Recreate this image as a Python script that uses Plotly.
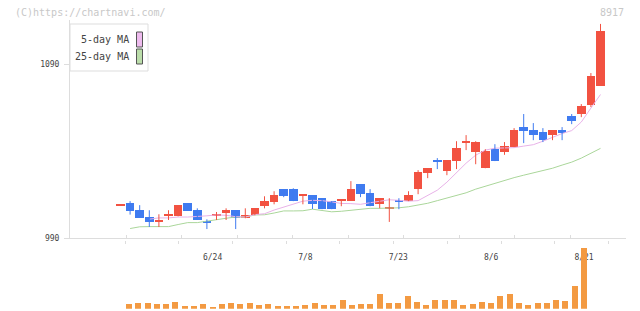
import plotly.graph_objects as go

# ---------------- data ----------------
dates = ["6/10", "6/11", "6/12", "6/13", "6/14", "6/17", "6/18", "6/19", "6/20", "6/21",
         "6/24", "6/25", "6/26", "6/27", "6/28", "7/1", "7/2", "7/3", "7/4", "7/5",
         "7/8", "7/9", "7/10", "7/11", "7/12", "7/16", "7/17", "7/18", "7/19", "7/22",
         "7/23", "7/24", "7/25", "7/26", "7/29", "7/30", "7/31", "8/1", "8/2", "8/5",
         "8/6", "8/7", "8/8", "8/9", "8/13", "8/14", "8/15", "8/16", "8/19", "8/20", "8/21"]

opens = [1009.0, 1010.1, 1006.1, 1002.1, 999.4, 1003.0, 1002.6, 1010.1, 1006.1, 999.8,
         1002.8, 1004.5, 1006.1, 1001.5, 1003.2, 1008.4, 1010.7, 1018.2, 1018.2, 1014.4,
         1014.7, 1013.0, 1011.3, 1011.5, 1011.4, 1021.0, 1015.9, 1009.5, 1006.9, 1011.8,
         1011.3, 1018.2, 1027.5, 1034.8, 1028.5, 1034.3, 1044.8, 1039.4, 1030.2, 1041.1,
         1039.6, 1042.3, 1053.8, 1052.1, 1050.9, 1049.2, 1052.1, 1060.1, 1061.3, 1066.4, 1077.4]
highs = [1009.0, 1011.3, 1009.0, 1006.1, 1003.8, 1006.1, 1009.0, 1010.1, 1007.2, 1000.9,
         1005.1, 1007.2, 1006.1, 1007.2, 1007.2, 1014.1, 1017.0, 1018.2, 1018.7, 1014.8,
         1014.7, 1013.0, 1011.3, 1011.9, 1022.8, 1021.0, 1018.2, 1013.0, 1013.0, 1013.0,
         1017.0, 1029.1, 1030.2, 1036.0, 1034.8, 1045.7, 1049.2, 1045.7, 1041.1, 1044.0,
         1045.2, 1053.2, 1061.3, 1056.1, 1053.2, 1052.1, 1053.8, 1061.3, 1067.0, 1084.8, 1113.0]
lows = [1009.0, 1003.6, 1001.7, 996.5, 996.5, 1000.5, 1002.6, 1005.7, 1000.5, 995.3,
        1000.5, 1000.5, 995.3, 1001.5, 1003.2, 1007.2, 1009.5, 1013.6, 1011.3, 1009.5,
        1006.8, 1006.7, 1006.7, 1008.4, 1011.4, 1013.6, 1008.4, 1007.2, 999.4, 1006.7,
        1011.3, 1015.3, 1024.5, 1029.7, 1026.2, 1029.7, 1040.6, 1032.5, 1030.2, 1034.3,
        1037.9, 1042.3, 1044.6, 1046.3, 1045.2, 1046.3, 1046.3, 1055.5, 1059.5, 1065.3, 1077.4]
closes = [1009.0, 1005.7, 1001.7, 999.3, 999.8, 1003.4, 1009.0, 1005.7, 1000.5, 998.6,
          1003.8, 1006.1, 1001.5, 1003.2, 1007.2, 1011.3, 1014.7, 1014.1, 1011.3, 1014.8,
          1009.5, 1006.7, 1006.7, 1011.9, 1018.2, 1015.3, 1008.4, 1013.0, 1007.7, 1010.9,
          1014.7, 1027.9, 1030.2, 1033.9, 1034.8, 1041.7, 1045.7, 1045.2, 1040.0, 1034.3,
          1042.9, 1052.1, 1051.5, 1049.2, 1046.3, 1052.1, 1050.3, 1057.2, 1065.9, 1083.1, 1109.0]

ma5 = [None, None, None, 1001.0, 1001.7, 1001.7, 1002.2, 1002.2, 1002.4, 1002.9,
       1003.4, 1003.2, 1002.4, 1002.2, 1003.6, 1004.1, 1006.2, 1008.0, 1009.9, 1011.3,
       1011.8, 1011.6, 1010.9, 1010.0, 1009.9, 1009.5, 1010.4, 1011.3, 1012.1, 1011.8,
       1011.3, 1011.6, 1014.7, 1017.6, 1022.2, 1027.9, 1033.1, 1037.7, 1040.6, 1041.7,
       1041.7, 1042.0, 1042.9, 1043.7, 1045.7, 1048.0, 1050.1, 1051.8, 1056.7, 1064.7, 1072.5]
ma25 = [None, 995.6, 996.6, 996.7, 996.7, 996.7, 997.9, 999.0, 999.0, 999.9,
        1000.9, 1001.5, 1002.2, 1002.2, 1003.4, 1003.5, 1004.5, 1005.7, 1005.7, 1005.8,
        1006.7, 1006.1, 1005.2, 1005.5, 1006.1, 1007.0, 1007.2, 1007.2, 1007.2, 1007.5,
        1008.1, 1009.0, 1010.1, 1011.6, 1013.0, 1014.4, 1016.1, 1018.2, 1019.9, 1021.6,
        1023.0, 1024.8, 1026.2, 1027.4, 1028.8, 1030.2, 1032.0, 1033.7, 1036.0, 1038.9, 1041.6]

volume = [None, 1400, 1700, 1700, 1400, 1400, 2000, 800, 800, 1400, 500,
          1400, 1700, 1400, 1700, 1100, 1400, 800, 800, 800, 1100,
          1700, 1100, 1100, 2600, 1100, 1400, 1400, 4400, 1700, 1700,
          3800, 2000, 1100, 2600, 2600, 2600, 1100, 1400, 2000, 1700,
          3800, 4400, 1700, 1100, 1700, 1700, 2600, 2300, 6800, 18200]

label_dates = ["6/24", "7/8", "7/23", "8/6", "8/21"]
price_ticks = [990, 1090]

# ---------------- style ----------------
RED = "#F25241"
BLUE = "#3F7BF0"
ORANGE = "#F39A42"
PINK = "#E8B2E8"
GREEN = "#AAD69A"
AXIS = "#DDDDDD"
FONT = "DejaVu Sans Mono"

OFF = 8                     # page body margin: figure starts 8px in
W, H = 640 - OFF, 311 - OFF
PL, PR = 70, 626            # plot area left/right in screen px
L = PL - OFF
R = W - (PR - OFF)
PW = W - L - R


def px_x(p):
    return (p - OFF - L) / PW


def px_y(p):
    return (H - (p - OFF)) / H


idx = list(range(len(dates)))
up = [c >= o for o, c in zip(opens, closes)]
body_base = [min(o, c) for o, c in zip(opens, closes)]
body_h = [max(abs(c - o), 0.6) for o, c in zip(opens, closes)]
body_col = [RED if u else BLUE for u in up]

fig = go.Figure()

# moving averages
fig.add_trace(go.Scatter(x=idx, y=ma25, mode="lines", line=dict(color=GREEN, width=1),
                         hoverinfo="skip", showlegend=False))
fig.add_trace(go.Scatter(x=idx, y=ma5, mode="lines", line=dict(color=PINK, width=1),
                         hoverinfo="skip", showlegend=False))

# wicks
for want, col in ((True, RED), (False, BLUE)):
    wx, wy = [], []
    for i in idx:
        if up[i] == want:
            wx += [i, i, None]
            wy += [lows[i], highs[i], None]
    fig.add_trace(go.Scatter(x=wx, y=wy, mode="lines", line=dict(color=col, width=1),
                             hoverinfo="skip", showlegend=False))

# bodies
fig.add_trace(go.Bar(x=idx, y=body_h, base=body_base, width=0.9,
                     marker=dict(color=body_col, line=dict(width=0)),
                     showlegend=False))

# volume
fig.add_trace(go.Bar(x=idx, y=volume, width=0.65, xaxis="x2", yaxis="y2",
                     marker=dict(color=ORANGE, line=dict(width=0)), showlegend=False))

tick_pos = [0.6 + 5.78 * k for k in range(10)]
label_pos = [dates.index(d) for d in label_dates]

# price scale: candle i at 120.5 + 9.6*i screen px
p_rng = [(PL - 120.5) / 9.6, (PR - 120.5) / 9.6]
# volume scale: candle i at 129 + 9.286*(i-1) screen px
v_rng = [(PL - 129) / 9.286 + 1, (PR - 129) / 9.286 + 1]

y_bot, y_top = 238.3, 20.0
ppy = 174.3 / 100.0
y_rng = [990, 990 + (y_bot - y_top) / ppy]

fig.update_layout(
    width=W, height=H,
    margin=dict(l=L, r=R, t=0, b=0, pad=0, autoexpand=False),
    paper_bgcolor="white", plot_bgcolor="white",
    bargap=0, barmode="overlay",
    font=dict(family=FONT, size=8, color="#444444"),
    xaxis=dict(domain=[0, 1], range=p_rng, anchor="y", showgrid=False, zeroline=False,
               showline=True, linecolor=AXIS, linewidth=1, automargin=False,
               tickmode="array", tickvals=tick_pos, ticks="inside", ticklen=3,
               tickcolor=AXIS, showticklabels=False),
    yaxis=dict(domain=[px_y(y_bot), px_y(y_top)], range=y_rng, anchor="x",
               showgrid=False, zeroline=False, showline=True, linecolor=AXIS,
               automargin=False,
               tickmode="array", tickvals=price_ticks, ticks="outside", ticklen=5,
               tickcolor=AXIS, ticklabelstandoff=3,
               tickfont=dict(size=8, color="#444444", family=FONT)),
    xaxis2=dict(domain=[0, 1], range=v_rng, anchor="free", position=px_y(250.5),
                showgrid=False, zeroline=False, showline=False, automargin=False,
                layer="below traces",
                tickmode="array", tickvals=label_pos, ticktext=label_dates, ticks="",
                tickfont=dict(size=8, color="#444444", family=FONT)),
    xaxis3=dict(domain=[0, 1], range=v_rng, anchor="free", position=px_y(240),
                overlaying="x2", showgrid=False, zeroline=False, showline=False,
                automargin=False,
                tickmode="array", tickvals=tick_pos, ticks="outside", ticklen=3,
                tickcolor=AXIS, showticklabels=False),
    yaxis2=dict(domain=[px_y(308.7), px_y(248)], range=[0, max(v for v in volume if v)],
                anchor="x2", visible=False, automargin=False),
)

# invisible helper trace so the volume tick axis is drawn
fig.add_trace(go.Scatter(x=[label_pos[0]], y=[0], xaxis="x3", yaxis="y2", mode="markers",
                         marker=dict(opacity=0), hoverinfo="skip", showlegend=False))

# texts
fig.add_annotation(xref="paper", yref="paper", x=px_x(13), y=px_y(12.5), xanchor="left",
                   yanchor="middle", text="(C)https://chartnavi.com/", showarrow=False,
                   font=dict(family=FONT, size=10, color="#C8C8C8"))
fig.add_annotation(xref="paper", yref="paper", x=px_x(626), y=px_y(12.5), xanchor="right",
                   yanchor="middle", text="8917", showarrow=False,
                   font=dict(family=FONT, size=10, color="#C8C8C8"))

# legend box
fig.add_shape(type="rect", xref="paper", yref="paper", x0=px_x(70), x1=px_x(148),
              y0=px_y(71), y1=px_y(24), line=dict(color=AXIS, width=1), fillcolor="white",
              layer="above")
for name, col, yc in (("5-day MA", "#EEBBEE", 39.5), ("25-day MA", "#BBDDAA", 56.5)):
    fig.add_shape(type="rect", xref="paper", yref="paper", x0=px_x(136.5), x1=px_x(142.5),
                  y0=px_y(yc + 7.5), y1=px_y(yc - 7.5), line=dict(color="#555555", width=1),
                  fillcolor=col, layer="above")
    fig.add_annotation(xref="paper", yref="paper", x=px_x(131), y=px_y(yc), xanchor="right",
                       yanchor="middle", text=name, showarrow=False,
                       font=dict(family=FONT, size=10, color="#444444"))

fig.write_html("out.html")
